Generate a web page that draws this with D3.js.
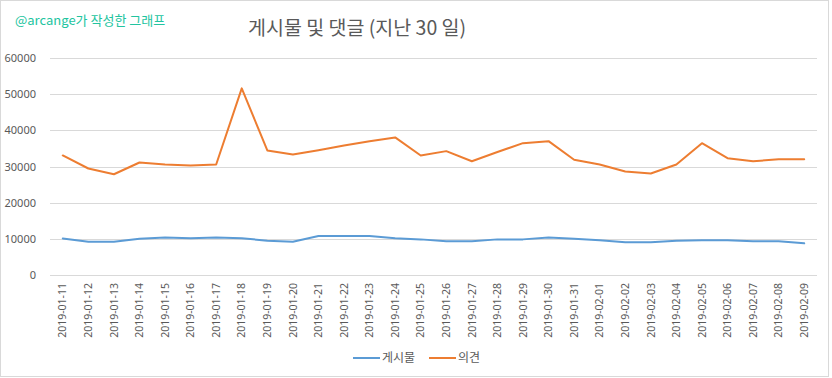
<!DOCTYPE html>
<html>
<head>
<meta charset="utf-8">
<script src="https://cdn.jsdelivr.net/npm/d3@7"></script>
<style>
  body { margin: 0; background: #fff; }
  svg { display: block; font-family: "Noto Sans CJK KR", "Noto Sans", sans-serif; }
</style>
</head>
<body>
<svg id="chart" width="832" height="378"></svg>
<script>
// dates for the last 30 days
const dates = [
  "2019-01-11", "2019-01-12", "2019-01-13", "2019-01-14", "2019-01-15",
  "2019-01-16", "2019-01-17", "2019-01-18", "2019-01-19", "2019-01-20",
  "2019-01-21", "2019-01-22", "2019-01-23", "2019-01-24", "2019-01-25",
  "2019-01-26", "2019-01-27", "2019-01-28", "2019-01-29", "2019-01-30",
  "2019-01-31", "2019-02-01", "2019-02-02", "2019-02-03", "2019-02-04",
  "2019-02-05", "2019-02-06", "2019-02-07", "2019-02-08", "2019-02-09"
];
// 게시물 (posts)
const posts = [
  10100, 9200, 9200, 10050, 10400, 10150, 10400, 10150, 9500, 9200,
  10800, 10800, 10800, 10150, 9850, 9300, 9300, 9850, 9850, 10400,
  10050, 9600, 9050, 9050, 9500, 9600, 9600, 9300, 9300, 8750
];
// 의견 (comments)
const comments = [
  33050, 29450, 27850, 31100, 30550, 30300, 30550, 51600, 34450, 33300,
  34500, 35800, 37000, 38050, 33050, 34250, 31450, 34000, 36450, 37000,
  31850, 30550, 28600, 28050, 30550, 36450, 32300, 31450, 32000, 32000
];
const yTicks = [0, 10000, 20000, 30000, 40000, 50000, 60000];

const svg = d3.select("#chart");
const W = 832, H = 378;
const m = { left: 50, right: 15, top: 58, bottom: 103 };

// outer border
svg.append("rect")
  .attr("x", 0.5).attr("y", 0.5)
  .attr("width", 828).attr("height", 376)
  .attr("fill", "#fff").attr("stroke", "#d9d9d9");

const x = d3.scaleBand().domain(dates).range([m.left, W - m.right]);
const y = d3.scaleLinear().domain([0, 60000]).range([H - m.bottom, m.top]);

// gridlines
svg.append("g")
  .selectAll("line")
  .data(yTicks)
  .join("line")
  .attr("x1", m.left).attr("x2", W - m.right)
  .attr("y1", d => Math.round(y(d)) + 0.5)
  .attr("y2", d => Math.round(y(d)) + 0.5)
  .attr("stroke", "#d9d9d9");

// y axis labels
const yAxis = svg.append("g")
  .attr("transform", `translate(${m.left - 11},0)`)
  .call(d3.axisLeft(y).tickValues(yTicks).tickSize(0).tickFormat(d3.format("d")));
yAxis.select(".domain").remove();
yAxis.selectAll("text")
  .attr("fill", "#595959")
  .style("font-size", "11px")
  .style("font-family", "'Noto Sans', sans-serif");

// x axis labels
const xAxis = svg.append("g")
  .attr("transform", `translate(0,${H - m.bottom})`)
  .call(d3.axisBottom(x).tickSize(0));
xAxis.select(".domain").remove();
xAxis.selectAll("text")
  .attr("fill", "#595959")
  .style("font-size", "10.5px")
  .style("font-family", "'Noto Sans', sans-serif")
  .attr("transform", "rotate(-90)")
  .attr("text-anchor", "end")
  .attr("x", -8)
  .attr("y", 0)
  .attr("dy", "0.35em");

const cx = d => x(d) + x.bandwidth() / 2;

const series = [
  { name: "게시물", values: posts, color: "#5b9bd5" },
  { name: "의견", values: comments, color: "#ed7d31" }
];

const line = d3.line()
  .x((d, i) => cx(dates[i]))
  .y(d => y(d));

svg.append("g")
  .selectAll("path")
  .data(series)
  .join("path")
  .attr("d", d => line(d.values))
  .attr("fill", "none")
  .attr("stroke", d => d.color)
  .attr("stroke-width", 2)
  .attr("stroke-linejoin", "round")
  .attr("stroke-linecap", "round");

// legend
const legendX = [353, 429];
const lg = svg.append("g")
  .selectAll("g")
  .data(series)
  .join("g")
  .attr("transform", (d, i) => `translate(${legendX[i]},358)`);
lg.append("line")
  .attr("x1", 0).attr("x2", 27)
  .attr("stroke", d => d.color)
  .attr("stroke-width", 2);
lg.append("text")
  .attr("x", 29).attr("dy", "0.35em")
  .attr("fill", "#595959")
  .style("font-size", "12px")
  .text(d => d.name);

// title
svg.append("text")
  .attr("x", 248).attr("y", 35)
  .attr("fill", "#595959")
  .style("font-size", "19.5px")
  .text("게시물 및 댓글 (지난 30 일)");

// watermark
svg.append("text")
  .attr("x", 15).attr("y", 25)
  .attr("fill", "#22c4a0")
  .style("font-size", "13px")
  .text("@arcange가 작성한 그래프");
</script>
</body>
</html>
